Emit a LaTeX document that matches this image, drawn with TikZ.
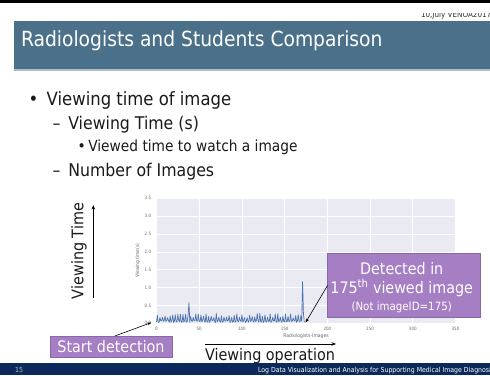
\documentclass[tikz,border=0pt]{standalone}
\usepackage{fontspec}
\setmainfont{DejaVu Sans Condensed}
\usetikzlibrary{arrows.meta}
\definecolor{hdr}{HTML}{4A7189}
\definecolor{hdrline}{HTML}{A9BFCC}
\definecolor{footerbg}{HTML}{0B2A5B}
\definecolor{boxfill}{HTML}{A57EC3}
\definecolor{boxborder}{HTML}{8A66AC}
\definecolor{plotbg}{HTML}{EAEAF2}
\definecolor{dataline}{HTML}{4C72B0}
\definecolor{txt}{HTML}{1A1A1A}
\definecolor{ticktxt}{HTML}{6A6A6A}
\definecolor{pagenum}{HTML}{B4BED0}
\tikzset{
  fs/.style={font=\fontsize{#1}{#1}\selectfont},
  plain/.style={inner sep=0pt, outer sep=0pt, text=txt},
  purplebox/.style={fill=boxfill, draw=boxborder, line width=0.8pt, inner sep=0pt, outer sep=0pt},
  gridline/.style={white, line width=0.7pt},
  ticklbl/.style={inner sep=0pt, text=ticktxt, font=\fontsize{4.5}{4.5}\selectfont},
  dataplot/.style={dataline, line width=0.7pt, line join=round},
  arr/.style={black, line width=0.6pt, -{Stealth[length=4pt,width=3pt]}},
  bigarr/.style={black, line width=0.9pt, -{Stealth[length=4.5pt,width=3.5pt]}}
}
\begin{document}
\begin{tikzpicture}[x=1pt,y=-1pt]
\useasboundingbox (0,0) rectangle (490,375);
\fill[white] (0,0) rectangle (490,375);
% top rule
\fill[black] (0,0) rectangle (490,2.5);
% clipped date text
\begin{scope}
  \clip (380,13) rectangle (490,20);
  \node[plain, anchor=base west, fs=8, text=black!80] (date) at (421,17.5) {10,July VENOA2017};
\end{scope}
% header band
\fill[hdr] (14,21) rectangle (490,69);
\fill[hdrline] (14,69) rectangle (490,71);
\node[plain, anchor=base west, fs=20.8, text=white] (title) at (21,46.7) {Radiologists and Students Comparison};
% bullets
\node[plain, anchor=base west, fs=18.3] (b1) at (28.5,105.5) {•};
\node[plain, anchor=base west, fs=18.3] (t1) at (46.7,105.5) {Viewing time of image};
\node[plain, anchor=base west, fs=17.5] (b2) at (52.5,129.3) {–};
\node[plain, anchor=base west, fs=17.5] (t2) at (68.3,129.3) {Viewing Time (s)};
\node[plain, anchor=base west, fs=15.3] (b3) at (77.5,151.7) {•};
\node[plain, anchor=base west, fs=15.3] (t3) at (88.3,151.7) {Viewed time to watch a image};
\node[plain, anchor=base west, fs=17.5] (b4) at (52.5,176.7) {–};
\node[plain, anchor=base west, fs=17.5] (t4) at (68.3,176.7) {Number of Images};
% chart
\begin{scope}[xshift=156.5pt, yshift=-323.3pt, x=0.8543pt, y=35.71pt]
  \fill[plotbg] (-1,0) rectangle (351,3.5);
  \foreach \gx in {0,50,...,350} \draw[gridline] (\gx,0) -- (\gx,3.5);
  \foreach \gy in {0,0.5,1,1.5,2,2.5,3,3.5} \draw[gridline] (-1,\gy) -- (351,\gy);
  \foreach \gx in {0,50,...,350} \node[ticklbl, anchor=north] (xt\gx) at (\gx,-0.1) {\gx};
  \foreach \gy/\lb [count=\k] in {0/0.0,0.5/0.5,1/1.0,1.5/1.5,2/2.0,2.5/2.5,3/3.0,3.5/3.5}
    \node[ticklbl, anchor=east] (yt\k) at (-6,\gy) {\lb};
  \node[ticklbl, font=\fontsize{5}{5}\selectfont] (xlab) at (175,-0.36) {Radiologists-Images};
  \node[ticklbl, rotate=90, font=\fontsize{4.8}{4.8}\selectfont] (ylab) at (-22,1.75) {Viewing time(s)};
  \pgfmathsetseed{12}
  \draw[dataplot] (0,0.04) \foreach \i in {1,...,173} {
     -- (\i,{ifthenelse(\i==38,0.58,ifthenelse(\i==171,1.17,ifthenelse(mod(\i,3)==1,0.15+0.13*rnd,0.02+0.06*rnd)))}) };
  \coordinate (p0) at (-6,0.02);
  \coordinate (p1) at (174.5,0.02);
\end{scope}
% annotation boxes
\node[purplebox, minimum width=122pt, minimum height=21pt] (sd) at (111,346.5) {};
\node[plain, fs=15.9, text=white] (sdt) at (sd.center) {Start detection};
\node[purplebox, minimum width=152.5pt, minimum height=64pt] (det) at (403.8,285.4) {};
\node[plain, anchor=base, fs=15.9, text=white] (d1) at (401.7,274.3) {Detected in};
\node[plain, anchor=base, fs=15.9, text=white] (d2) at (401.7,293.3) {175\textsuperscript{th} viewed image};
\node[plain, anchor=base, fs=11.4, text=white] (d3) at (401.7,310) {(Not imageID=175)};
\draw[arr] (sd.70) -- (p0);
\draw[arr] (det.west) -- (p1);
% axis arrows
\node[plain, rotate=90, fs=16] (vt) at (79,251) {Viewing Time};
\coordinate (va0) at (93.3,298);
\coordinate (va1) at (93.3,205);
\draw[bigarr] (va0) -- (va1);
\node[plain, anchor=base west, fs=16] (vo) at (205,360) {Viewing operation};
\coordinate (ha0) at (205,344);
\coordinate (ha1) at (336,344);
\draw[bigarr] (ha0) -- (ha1);
% footer
\fill[footerbg] (0,362.5) rectangle (490,375);
\node[plain, anchor=base west, fs=7, text=pagenum] (pg) at (15,372.5) {15};
\node[plain, anchor=base west, fs=6.9, text=white] (ft) at (258,372) {Log Data Visualization and Analysis for Supporting Medical Image Diagnosis};
\end{tikzpicture}
\end{document}
